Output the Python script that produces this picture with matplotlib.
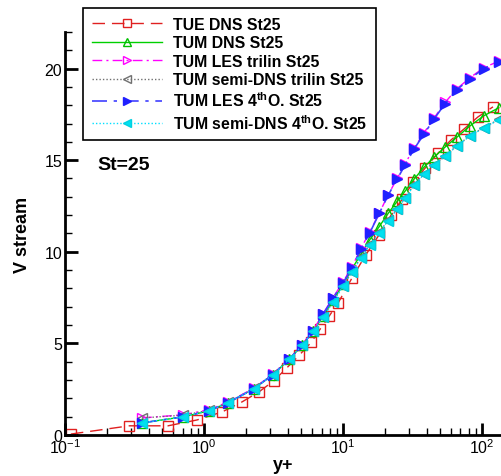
import matplotlib
matplotlib.use('Agg')
import matplotlib.pyplot as plt
from matplotlib.ticker import MultipleLocator, LogLocator, NullFormatter

plt.rcParams['font.family'] = ['Liberation Sans', 'DejaVu Sans']
plt.rcParams['mathtext.fontset'] = 'custom'
plt.rcParams['mathtext.rm'] = 'Liberation Sans'
plt.rcParams['mathtext.bf'] = 'Liberation Sans:bold'

# TUE DNS
tue_x = [0.11, 0.29, 0.55, 0.89, 1.35, 1.88, 2.49, 3.19, 3.96, 4.82, 5.89, 6.83, 7.93,
         9.21, 11.6, 14.6, 18.2, 22.1, 26.6, 31.9, 38.9, 48.2, 59.8, 74.2, 93.5, 120]
tue_y = [0.05, 0.5, 0.5, 0.82, 1.26, 1.81, 2.36, 2.97, 3.68, 4.34, 5.05, 5.77, 6.48,
         7.2, 8.57, 9.84, 10.93, 11.98, 12.86, 13.79, 14.56, 15.38, 16.1, 16.7, 17.36, 17.91]

# TUM runs share one y+ grid
tum_x = [0.358, 0.706, 1.087, 1.489, 2.29, 3.13, 4.09, 5.07, 6.08, 7.18, 8.47, 10.0, 11.6,
         13.5, 15.6, 18.2, 21.1, 24.5, 27.9, 32.4, 38.3, 45.2, 54.2, 66.1, 82.0, 103, 132]
tum_dns = [0.66, 0.99, 1.32, 1.76, 2.53, 3.30, 4.12, 4.89, 5.66, 6.48, 7.36, 8.24, 9.07,
           9.89, 10.66, 11.37, 12.09, 12.75, 13.3, 13.96, 14.62, 15.16, 15.71, 16.26, 16.87, 17.42, 17.86]
les_trilin = [0.93, 1.1, 1.38, 1.8, 2.56, 3.33, 4.15, 4.93, 5.7, 6.62, 7.5, 8.35, 9.18,
              10.2, 11.1, 12.1, 13.1, 14.0, 14.8, 15.65, 16.5, 17.3, 18.15, 18.9, 19.5, 20.05, 20.4]
semi_trilin = [0.93, 1.08, 1.35, 1.78, 2.55, 3.32, 4.14, 4.9, 5.68, 6.45, 7.27, 8.15, 8.92,
               9.7, 10.4, 11.06, 11.72, 12.33, 12.93, 13.65, 14.25, 14.75, 15.24, 15.79, 16.34, 16.78, 17.22]
les_4th = [0.66, 0.99, 1.32, 1.76, 2.53, 3.30, 4.12, 4.89, 5.66, 6.59, 7.47, 8.3, 9.12,
           10.16, 11.04, 12.09, 13.08, 13.96, 14.73, 15.6, 16.43, 17.25, 18.08, 18.85, 19.45, 20.0, 20.38]
semi_4th = [0.66, 0.99, 1.32, 1.76, 2.53, 3.30, 4.12, 4.89, 5.66, 6.43, 7.25, 8.13, 8.90,
            9.67, 10.38, 11.04, 11.7, 12.31, 12.91, 13.63, 14.23, 14.73, 15.22, 15.77, 16.32, 16.76, 17.2]

labels = ['TUE DNS St25', 'TUM DNS St25', 'TUM LES trilin St25', 'TUM semi-DNS trilin St25',
          r'TUM LES 4$^{\mathbf{th}}$O. St25', r'TUM semi-DNS 4$^{\mathbf{th}}$O. St25']

fig = plt.figure(figsize=(5.01, 4.77), dpi=100)
ax = fig.add_axes([0.13, 0.086, 0.87, 0.845])

ax.plot(tue_x, tue_y, color='#e02020', ls=(0, (9, 5)), lw=1, marker='s', ms=6.5,
        mfc='none', mec='#e02020', mew=1, label=labels[0])
ax.plot(tum_x, tum_dns, color='#00d000', ls='-', lw=1, marker='^', ms=6.5,
        mfc='none', mec='#00c000', mew=1, label=labels[1])
ax.plot(tum_x, les_trilin, color='#ff00ff', ls=(0, (7, 3, 1.5, 3)), lw=1, marker='>', ms=6.5,
        mfc='none', mec='#ff00ff', mew=1, label=labels[2])
ax.plot(tum_x, semi_trilin, color='#707070', ls=(0, (1, 1.5)), lw=1, marker='<', ms=6.5,
        mfc='none', mec='#707070', mew=1, label=labels[3])
ax.plot(tum_x, les_4th, color='#4040ff', ls=(0, (9, 4, 2, 4)), lw=1.2, marker='>', ms=6.5,
        mfc='#2020ff', mec='#2020ff', mew=1, label=labels[4])
ax.plot(tum_x, semi_4th, color='#00e0ff', ls=(0, (1, 1.5)), lw=1, marker='<', ms=6.5,
        mfc='#00e0f0', mec='#00d0e0', mew=1, label=labels[5])

ax.set_xscale('log')
ax.set_xlim(0.1, 137)
ax.set_ylim(0, 22)
ax.yaxis.set_major_locator(MultipleLocator(5))
ax.yaxis.set_minor_locator(MultipleLocator(1))
ax.xaxis.set_major_locator(LogLocator(base=10, numticks=10))
ax.xaxis.set_minor_locator(LogLocator(base=10, subs=range(2, 10), numticks=20))
ax.xaxis.set_minor_formatter(NullFormatter())

for side in ['top', 'right']:
    ax.spines[side].set_visible(False)
for side in ['left', 'bottom']:
    ax.spines[side].set_linewidth(2)
ax.tick_params(which='major', direction='in', length=9, width=2, labelsize=11.5, pad=2)
ax.tick_params(which='minor', direction='in', length=5, width=1)

ax.set_xlabel('y+', fontsize=13, fontweight='bold', labelpad=0)
ax.set_ylabel('V stream', fontsize=13, fontweight='bold', labelpad=10)
ax.text(0.073, 0.672, 'St=25', transform=ax.transAxes, fontsize=14,
        fontweight='bold', va='center')

leg = fig.legend(loc='upper left', bbox_to_anchor=(0.166, 0.981), borderaxespad=0,
                 prop={'weight': 'bold', 'size': 11.4}, numpoints=1, markerscale=0.85,
                 handlelength=4.4, handletextpad=0.7, labelspacing=0.22,
                 fancybox=False, framealpha=1, edgecolor='black', borderpad=0.55)
leg.get_frame().set_linewidth(1.2)

fig.savefig('out.png', dpi=100)
